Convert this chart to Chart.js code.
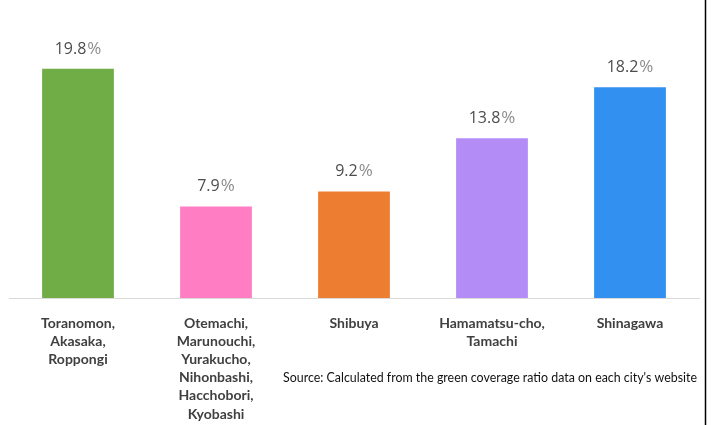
<!DOCTYPE html>
<html>
<head>
<meta charset="utf-8">
<script src="https://cdn.jsdelivr.net/npm/chart.js@4"></script>
<style>
  html, body { margin: 0; padding: 0; background: #fff; }
  #wrap { width: 711px; height: 425px; position: relative; }
</style>
</head>
<body>
<div id="wrap"><canvas id="greenChart" width="711" height="425"></canvas></div>
<script>
// DATA
const areas = [
    ["Toranomon,", "Akasaka,", "Roppongi"],
    ["Otemachi,", "Marunouchi,", "Yurakucho,", "Nihonbashi,", "Hacchobori,", "Kyobashi"],
    ["Shibuya"],
    ["Hamamatsu-cho,", "Tamachi"],
    ["Shinagawa"]
];
const greenRatio = [19.8, 7.9, 9.2, 13.8, 18.2];
const barColors = ["#70AD47", "#FF7DC3", "#ED7D31", "#B48CF6", "#3291F0"];
const sourceNote = "Source: Calculated from the green coverage ratio data on each city's website";

const labelFont = "Lato, 'Open Sans', sans-serif";

// value labels above bars, source note, right frame line
const extras = {
    id: "extras",
    afterDatasetsDraw(chart) {
        const ctx = chart.ctx;
        const meta = chart.getDatasetMeta(0);
        ctx.save();
        ctx.textBaseline = "alphabetic";
        meta.data.forEach(function (bar, i) {
            const num = greenRatio[i].toFixed(1);
            ctx.font = "16px 'Open Sans', sans-serif";
            const w1 = ctx.measureText(num).width;
            ctx.font = "17px 'Open Sans', sans-serif";
            const w2 = ctx.measureText("%").width;
            const x0 = bar.x - (w1 + w2 + 1) / 2;
            const y = bar.y - 15;
            ctx.textAlign = "left";
            ctx.font = "16px 'Open Sans', sans-serif";
            ctx.fillStyle = "#4d4d4d";
            ctx.fillText(num, x0, y);
            ctx.font = "17px 'Open Sans', sans-serif";
            ctx.fillStyle = "#8c8c8c";
            ctx.fillText("%", x0 + w1 + 1, y);
        });

        // source note
        ctx.font = "13.5px " + labelFont;
        ctx.fillStyle = "#111";
        ctx.textAlign = "left";
        ctx.fillText(sourceNote, 283, 382, 414);

        // right frame line
        ctx.strokeStyle = "#000";
        ctx.lineWidth = 1.5;
        ctx.beginPath();
        ctx.moveTo(705.5, 0);
        ctx.lineTo(705.5, 425);
        ctx.stroke();
        ctx.restore();
    }
};

new Chart(document.getElementById("greenChart").getContext("2d"), {
    type: "bar",
    data: {
        labels: areas,
        datasets: [{
            data: greenRatio,
            backgroundColor: barColors,
            barPercentage: 0.65,
            categoryPercentage: 0.8
        }]
    },
    options: {
        responsive: false,
        animation: false,
        layout: { padding: { left: 9, right: 12, top: 20, bottom: 0 } },
        plugins: {
            legend: { display: false },
            tooltip: { enabled: false }
        },
        scales: {
            x: {
                grid: { display: false, drawTicks: false },
                border: { display: true, color: "#d9d9d9", width: 1 },
                ticks: {
                    padding: 16,
                    color: "#404040",
                    maxRotation: 0,
                    autoSkip: false,
                    font: { family: labelFont, size: 14, weight: "bold", lineHeight: 1.3 }
                },
                afterFit(scale) { scale.height = 127; }
            },
            y: {
                display: false,
                min: 0,
                max: 24
            }
        }
    },
    plugins: [extras]
});
</script>
</body>
</html>
